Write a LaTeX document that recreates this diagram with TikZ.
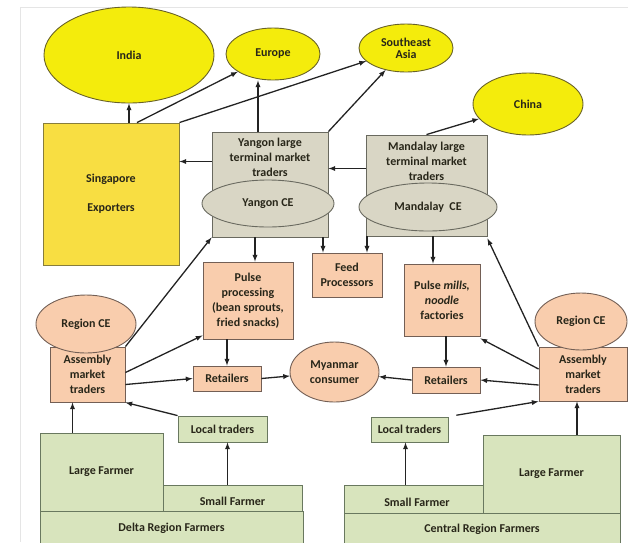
\documentclass[tikz,border=0pt]{standalone}
\usepackage{fontspec}
\setmainfont{Carlito}
\usepackage{xcolor}
\usepackage{tikz}
\usetikzlibrary{shapes, arrows, positioning}

\definecolor{ylw}{RGB}{244,236,12}
\definecolor{ylwline}{RGB}{105,98,40}
\definecolor{sing}{RGB}{248,222,66}
\definecolor{singline}{RGB}{135,125,60}
\definecolor{term}{RGB}{217,214,197}
\definecolor{termline}{RGB}{105,105,95}
\definecolor{peach}{RGB}{249,205,173}
\definecolor{peachline}{RGB}{115,95,85}
\definecolor{farm}{RGB}{216,228,189}
\definecolor{farmline}{RGB}{105,120,95}
\definecolor{txt}{RGB}{40,38,25}
\definecolor{arrowcol}{RGB}{35,35,35}

\begin{document}
\begin{tikzpicture}[x=1pt,y=-1pt,
    font=\fontsize{12}{15}\selectfont\bfseries,
    sz/.style 2 args={minimum width=#1pt,minimum height=#2pt},
    country/.style={ellipse,draw=ylwline,fill=ylw,line width=0.9pt,inner sep=0pt,text=txt,align=center},
    export/.style={rectangle,draw=singline,fill=sing,line width=0.9pt,inner sep=0pt,text=txt,align=center},
    terminal/.style={rectangle,draw=termline,fill=term,line width=0.9pt,inner sep=0pt,text=txt,align=center},
    ce/.style={ellipse,draw=termline,fill=term,line width=0.9pt,inner sep=0pt,text=txt},
    proc/.style={rectangle,draw=peachline,fill=peach,line width=0.9pt,inner sep=0pt,text=txt,align=center},
    regce/.style={ellipse,draw=peachline,fill=peach,line width=0.9pt,inner sep=0pt,text=txt,align=center},
    farmer/.style={rectangle,draw=farmline,fill=farm,line width=0.9pt,inner sep=0pt,text=txt,align=center}]
  \useasboundingbox (0,0) rectangle (628,542);
  \draw[black!10] (20,542) -- (20,7) -- (628,7);

  % export markets
  \begin{scope}[every node/.style={country}]
    \node[sz={170}{96}] (india) at (129,55) {India};
    \node[sz={94}{52}] (europe) at (273,54) {Europe};
    \node[sz={94}{48}] (sea) at (406,48) {Southeast\\[-3pt]Asia};
    \node[sz={110}{62}] (china) at (528,104) {China};
  \end{scope}

  % exporters and terminal markets
  \node[export,sz={136}{142}] (singapore) at (111,194) {Singapore\\[14pt]Exporters};
  \node[terminal,sz={116}{105}] (yangon) at (270,184.5) {};
  \node[text=txt,align=center] (yangontxt) at (270,157) {Yangon large\\terminal market\\traders};
  \node[ce,sz={132}{47}] (yangonce) at (268,203.5) {Yangon CE};
  \node[terminal,sz={121}{101}] (mandalay) at (426.5,185.5) {};
  \node[text=txt,align=center] (mandalaytxt) at (426.5,161) {Mandalay large\\terminal market\\traders};
  \node[ce,sz={138}{48}] (mandalayce) at (428,207) {Mandalay\ \ CE};

  % processors, retail, consumers
  \begin{scope}[every node/.style={proc}]
    \node[sz={70}{44}] (feed) at (347,275) {Feed\\Processors};
    \node[sz={90}{77}] (pulseproc) at (248,300.5) {Pulse\\processing\\(bean sprouts,\\fried snacks)};
    \node[sz={76}{72}] (pulsemills) at (442,300) {Pulse \textit{mills,}\\\textit{noodle}\\factories};
    \node[sz={68}{25}] (retleft) at (227,378.5) {Retailers};
    \node[sz={68}{26}] (retright) at (446,380) {Retailers};
    \node[sz={75}{55}] (assemleft) at (87.5,374.5) {Assembly\\market\\traders};
    \node[sz={88}{54}] (assemright) at (583,374) {Assembly\\market\\traders};
  \end{scope}
  \node[regce,sz={89}{60}] (consumer) at (334.5,372) {Myanmar\\consumer};
  \node[regce,sz={100}{58}] (regionleft) at (86,324) {Region CE};
  \node[regce,sz={92}{57}] (regionright) at (581,321.5) {Region CE};

  % farmers
  \begin{scope}[every node/.style={farmer}]
    \node[sz={89}{26}] (localleft) at (222.5,429) {Local traders};
    \node[sz={77}{25}] (localright) at (409.5,429.5) {Local traders};
    \node[sz={123}{78}] (largeleft) at (101.5,472) {Large Farmer};
    \node[sz={139}{26}] (smallleft) at (232.5,498) {};
    \node[sz={263}{34}] (delta) at (171.5,528) {Delta Region Farmers};
    \node[sz={139}{28}] (smallright) at (413.5,499) {};
    \node[sz={137}{78}] (largeright) at (551.5,474) {Large Farmer};
    \node[sz={276}{33}] (central) at (482,529.5) {Central Region Farmers};
  \end{scope}
  \node[text=txt] (smalllefttxt) at (232.5,501) {Small Farmer};
  \node[text=txt] (smallrighttxt) at (417,502) {Small Farmer};

  \begin{scope}[every edge/.style={draw=arrowcol,line width=1.3pt,-latex}]
    \path (india.south |- singapore.north) edge (india.south);
    \path ([xshift=26pt]singapore.north) edge (europe);
    \path (singapore.north east) edge (sea);
    \path ([xshift=-12pt]yangon.north) edge ([xshift=-12pt]yangon.north |- europe.south);
    \path (yangon.north east) edge (sea);
    \path (mandalay.north) edge (china);
    \path ([yshift=17pt]mandalay.west) edge ([yshift=17pt]mandalay.west -| yangon.east);
    \path ([yshift=23pt]yangon.west) edge ([yshift=23pt]yangon.west -| singapore.east);
    \path ([xshift=7pt]pulseproc.north |- yangon.south) edge ([xshift=7pt]pulseproc.north);
    \path ([xshift=-24pt]feed.north |- yangon.south) edge ([xshift=-24pt]feed.north);
    \path ([xshift=20pt]feed.north |- mandalay.south) edge ([xshift=20pt]feed.north);
    \path ([xshift=-9pt]pulsemills.north |- mandalay.south) edge ([xshift=-9pt]pulsemills.north);
    \path (retleft.north |- pulseproc.south) edge (retleft.north);
    \path (retright.north |- pulsemills.south) edge (retright.north);
    \path (retleft.east) edge (consumer);
    \path (retright.west) edge (consumer);
    \path (assemleft.north east) edge (yangon.south west);
    \path ([yshift=2pt]assemleft.east) edge ([yshift=4pt]pulseproc.south west);
    \path ([yshift=-10pt]assemleft.east) edge (retleft.west);
    \path (localleft.north west) edge (assemleft.south east);
    \path ([xshift=-15pt]assemleft.south |- largeleft.north) edge ([xshift=-15pt]assemleft.south);
    \path ([xshift=5pt]localleft.south |- smallleft.north) edge ([xshift=5pt]localleft.south);
    \path (assemright.north west) edge ([yshift=-2pt]mandalay.south east);
    \path ([yshift=5pt]assemright.west) edge ([yshift=-2pt]pulsemills.south east);
    \path ([yshift=-11pt]assemright.west) edge (retright.east);
    \path[shorten <=8pt] (localright.north east) edge (assemright.south west);
    \path ([xshift=-6pt]assemright.south |- largeright.north) edge ([xshift=-6pt]assemright.south);
    \path ([xshift=-4pt]localright.south |- smallright.north) edge ([xshift=-4pt]localright.south);
  \end{scope}
\end{tikzpicture}
\end{document}
